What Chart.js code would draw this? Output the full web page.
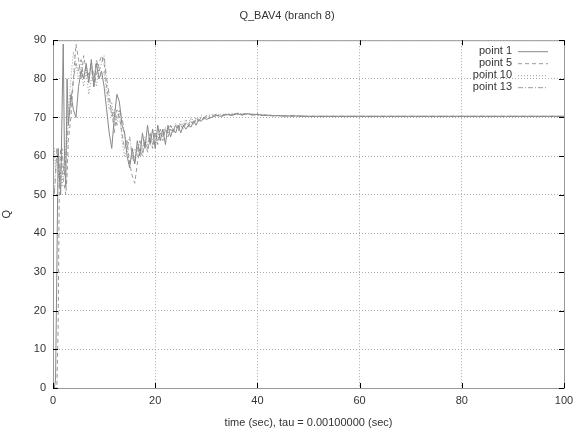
<!DOCTYPE html>
<html><head><meta charset="utf-8">
<script src="https://cdn.jsdelivr.net/npm/chart.js@4/dist/chart.umd.min.js"></script>
<style>html,body{margin:0;padding:0;background:#fff}#w{width:574px;height:430px}</style>
</head><body><div id="w"><canvas id="c" width="574" height="430"></canvas></div>
<script>
const times = [0,0.25,0.5,0.75,1,1.25,1.5,1.75,2,2.25,2.5,2.75,3,
3.5,4,4.5,5,5.5,6,6.5,7,7.5,8,8.5,9,9.5,10,10.5,11,11.5,12,12.5,13,13.5,14,14.5,15,15.5,16,16.5,17,17.5,18,18.5,19,19.5,20,20.5,21,21.5,22,22.5,23,23.5,24,24.5,25,25.5,26,26.5,27,27.5,28,28.5,29,29.5,30,
31,32,33,34,35,36,37,38,39,40,41,42,43,44,45,47,50,55,60,70,80,90,100];
const point1 = [0,0,2,30,62,55,50,70,89,60,52,80,68,
76,72,70,78,82,80,84,79,85,78,84,80,82,78,72,66,62,70,76,74,68,66,60,57,62,58,64,60,66,62,68,63,67,62,68,64,67,63,68,65,67,66,68,66,68,67,68,67.5,69,68,69.5,69,70,69.5,
70,70.5,70.3,70.8,70.5,71,70.6,71,70.6,70.8,70.5,70.6,70.4,70.5,70.4,70.4,70.3,70.3,70.3,70.3,70.3,70.3,70.3];
const point5 = [0,0,0,0,15,55,62,58,54,52,50,55,64,
70,80,89,85,80,86,82,80,83,78,81,84,86,84,78,74,72,66,72,70,66,62,64,58,55,53,58,62,60,64,61,65,62,66,63,66,64,67,65,67,66,68,66.5,68,67,68.5,67.5,69,68,69.5,69,70,69.5,70.2,
70,70.6,70.4,70.9,70.6,71,70.8,71.1,70.7,70.9,70.6,70.7,70.5,70.5,70.4,70.4,70.3,70.3,70.3,70.3,70.3,70.3,70.3];
const point10 = [58,62,56,60,57,54,56,52,55,60,62,66,72,
80,87,84,80,83,78,82,76,80,82,78,83,80,82,76,72,74,68,70,72,64,60,62,58,60,62,60,64,62,65,63,66,64,67,65,67,65.5,67.5,66,68,67,68.5,67.5,69,68,69.5,68.5,70,69,70,69.5,70.5,70,70.3,
70.8,70.4,71,70.6,71.1,70.8,71,70.7,70.9,70.6,70.7,70.5,70.5,70.4,70.4,70.4,70.3,70.3,70.3,70.3,70.3,70.3,70.3];
const point13 = [60,50,55,62,58,52,56,62,58,55,60,64,68,
74,80,84,82,85,80,83,81,84,80,85,82,84,86,80,76,70,72,68,72,70,66,62,65,60,58,62,64,61,64,62,66,63,66,64,67,65,67,66,68,66.5,68,67,68.5,67.5,69,68,69.5,68.5,70,69,70,69.8,70.5,
70.3,70.9,70.5,71,70.7,71.2,70.8,71,70.8,70.9,70.6,70.6,70.5,70.5,70.4,70.4,70.3,70.3,70.3,70.3,70.3,70.3,70.3];
const seriesNames = ['point 1','point 5','point 10','point 13'];
const xTicks = [0,20,40,60,80,100];
const yTicks = [0,10,20,30,40,50,60,70,80,90];

const FONT = 'Liberation Sans';
const TXT = '#333';
const dashes = [[],[4,3],[1,2],[5,2,1,2]];
const colors = ['#888','#999','#999','#999'];
const allSeries = [point1,point5,point10,point13];

const datasets = allSeries.map((s,i)=>({
  label: seriesNames[i],
  data: times.map((t,k)=>({x:t,y:s[k]})),
  borderColor: colors[i], borderWidth: 1, borderDash: dashes[i],
  pointRadius: 0, fill:false, tension:0
}));

const frame = {
  id:'frame',
  afterDraw(chart){
    const {ctx, chartArea:a, scales} = chart;
    ctx.save();
    ctx.strokeStyle = '#999'; ctx.lineWidth = 1; ctx.setLineDash([]);
    ctx.strokeRect(a.left+0.5, a.top+0.5, a.right-a.left, a.bottom-a.top);
    ctx.strokeStyle = '#000';
    ctx.beginPath();
    xTicks.forEach(v=>{ const x=Math.round(scales.x.getPixelForValue(v))+0.5;
      ctx.moveTo(x,a.bottom); ctx.lineTo(x,a.bottom-5);
      ctx.moveTo(x,a.top); ctx.lineTo(x,a.top+5); });
    yTicks.forEach(v=>{ const y=Math.round(scales.y.getPixelForValue(v))+0.5;
      ctx.moveTo(a.left,y); ctx.lineTo(a.left+5,y);
      ctx.moveTo(a.right,y); ctx.lineTo(a.right-5,y); });
    ctx.stroke();
    // legend
    ctx.font = '11px '+FONT; ctx.fillStyle = TXT; ctx.textAlign='right'; ctx.textBaseline='middle';
    chart.data.datasets.forEach((d,i)=>{
      const y = a.top + 11 + i*12;
      ctx.fillText(d.label, a.right-52, y);
      ctx.strokeStyle = d.borderColor; ctx.setLineDash(d.borderDash);
      ctx.beginPath(); ctx.moveTo(a.right-46, y+0.5); ctx.lineTo(a.right-16, y+0.5); ctx.stroke();
    });
    ctx.restore();
  }
};

new Chart(document.getElementById('c'), {
  type:'line',
  data:{datasets},
  options:{
    responsive:false, animation:false, devicePixelRatio:1,
    layout:{padding:{left:0,right:0,top:0,bottom:0}},
    plugins:{
      legend:{display:false}, tooltip:{enabled:false},
      title:{display:true, text:'Q_BAV4 (branch 8)', color:TXT, font:{family:FONT,size:11,weight:'normal'}, padding:{top:9,bottom:18}}
    },
    scales:{
      x:{type:'linear', min:0, max:100,
        afterBuildTicks(s){ s.ticks = xTicks.map(v=>({value:v})); },
        afterFit(s){ s.height = 42; s.paddingRight = 10; },
        ticks:{color:TXT, font:{family:FONT,size:11}, padding:6, maxRotation:0},
        grid:{color:'#aaa', borderDash:[1,2], drawTicks:false, tickLength:0},
        border:{display:false, dash:[1,2]},
        title:{display:true, text:'time (sec), tau = 0.00100000 (sec)', color:TXT, font:{family:FONT,size:11}, padding:{top:4,bottom:0}}
      },
      y:{type:'linear', min:0, max:90,
        afterBuildTicks(s){ s.ticks = yTicks.map(v=>({value:v})); },
        afterFit(s){ s.width = 53; },
        ticks:{color:TXT, font:{family:FONT,size:11}, padding:7},
        grid:{color:'#aaa', drawTicks:false, tickLength:0},
        border:{display:false, dash:[1,2]},
        title:{display:true, text:'Q', color:TXT, font:{family:FONT,size:11}, padding:{top:0,bottom:8}}
      }
    }
  },
  plugins:[frame]
});
</script></body></html>
